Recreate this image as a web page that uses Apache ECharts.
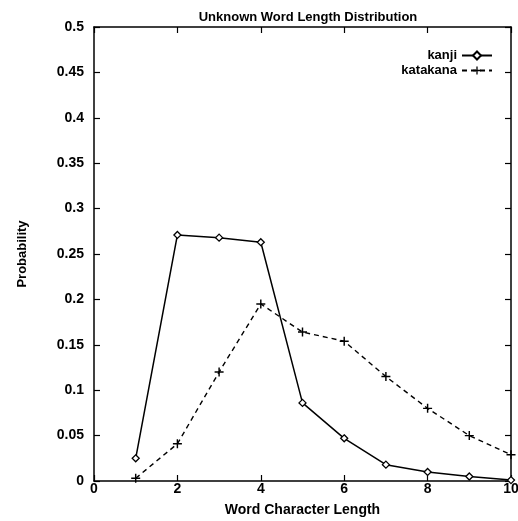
<!DOCTYPE html>
<html>
<head>
<meta charset="utf-8">
<script src="https://cdn.jsdelivr.net/npm/echarts@6/dist/echarts.min.js"></script>
<style>
html,body{margin:0;padding:0;background:#fff;overflow:hidden;}
#c{width:518px;height:521px;}
</style>
</head>
<body>
<div id="c"></div>
<script>
const lengths = [1, 2, 3, 4, 5, 6, 7, 8, 9, 10];
const kanji = [0.025, 0.271, 0.268, 0.263, 0.086, 0.047, 0.018, 0.010, 0.005, 0.001];
const katakana = [0.003, 0.041, 0.120, 0.195, 0.164, 0.154, 0.115, 0.080, 0.050, 0.029];
const seriesNames = ['kanji', 'katakana'];
const titleText = 'Unknown Word Length Distribution';
const xName = 'Word Character Length';
const yName = 'Probability';

const font = 'Liberation Sans, Arial, Helvetica, sans-serif';
const pair = (ys) => lengths.map((x, i) => [x, ys[i]]);
const plusPath = 'path://M4.2,0H5.8V4.2H10V5.8H5.8V10H4.2V5.8H0V4.2H4.2Z';

const chart = echarts.init(document.getElementById('c'), null, {renderer: 'canvas'});
const axisLine = {show: true, onZero: false, lineStyle: {color: '#000', width: 1.5}};
const tick = {show: true, inside: true, length: 6, lineStyle: {color: '#000', width: 1.2}};
chart.setOption({
  animation: false,
  backgroundColor: '#fff',
  title: {
    text: titleText,
    left: 303, textAlign: 'center', top: 6,
    textStyle: {fontFamily: font, fontSize: 13, fontWeight: 'bold', color: '#000'}
  },
  legend: {
    orient: 'vertical',
    right: 20, top: 44,
    align: 'right',
    itemWidth: 30, itemHeight: 10, itemGap: 2,
    data: seriesNames,
    textStyle: {fontFamily: font, fontSize: 13, fontWeight: 'bold', color: '#000', lineHeight: 12}
  },
  grid: {left: 94, right: 7, top: 27, bottom: 40, containLabel: false, outerBoundsMode: 'none'},
  xAxis: [{
    type: 'value', min: 0, max: 10, interval: 2,
    name: xName, nameLocation: 'middle', nameGap: 22,
    nameTextStyle: {fontFamily: font, fontSize: 14, fontWeight: 'bold', color: '#000'},
    axisLine: axisLine, axisTick: tick,
    axisLabel: {fontFamily: font, fontSize: 14, fontWeight: 'bold', color: '#000', margin: 1},
    splitLine: {show: false}
  }, {
    type: 'value', min: 0, max: 10, interval: 2, position: 'top',
    axisLine: axisLine, axisTick: tick, axisLabel: {show: false}, splitLine: {show: false}
  }],
  yAxis: [{
    type: 'value', min: 0, max: 0.5, interval: 0.05,
    name: yName, nameLocation: 'middle', nameGap: 65, nameRotate: 90,
    nameTextStyle: {fontFamily: font, fontSize: 13, fontWeight: 'bold', color: '#000'},
    axisLine: axisLine, axisTick: tick,
    axisLabel: {fontFamily: font, fontSize: 14, fontWeight: 'bold', color: '#000', margin: 10,
      formatter: (v) => String(parseFloat(v.toFixed(2)))},
    splitLine: {show: false}
  }, {
    type: 'value', min: 0, max: 0.5, interval: 0.05, position: 'right',
    axisLine: axisLine, axisTick: tick, axisLabel: {show: false}, splitLine: {show: false}
  }],
  series: [{
    name: seriesNames[0], type: 'line', data: pair(kanji),
    symbol: 'diamond', symbolSize: 7, showAllSymbol: true, clip: false,
    lineStyle: {color: '#000', width: 1.5},
    itemStyle: {color: '#fff', borderColor: '#000', borderWidth: 1.3}
  }, {
    name: seriesNames[1], type: 'line', data: pair(katakana),
    symbol: plusPath, symbolSize: 9, showAllSymbol: true, clip: false,
    lineStyle: {color: '#000', width: 1.4, type: [5, 4]},
    itemStyle: {color: '#000', borderWidth: 0}
  }]
});
</script>
</body>
</html>
